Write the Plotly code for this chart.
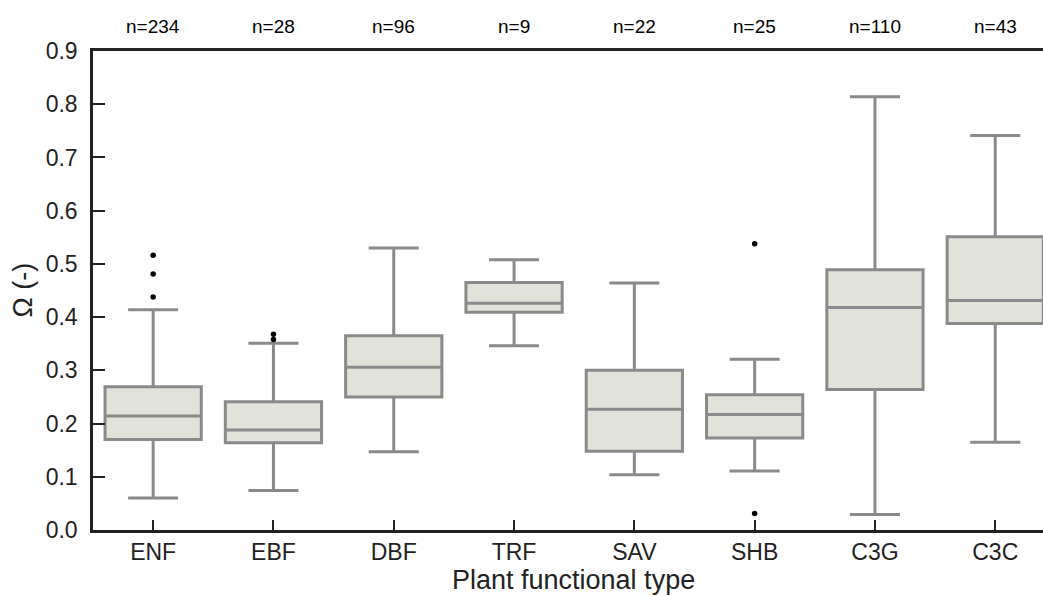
import plotly.graph_objects as go

categories = ["ENF", "EBF", "DBF", "TRF", "SAV", "SHB", "C3G", "C3C"]
n_labels = ["n=234", "n=28", "n=96", "n=9", "n=22", "n=25", "n=110", "n=43"]
lower_whisker = [0.060, 0.074, 0.147, 0.346, 0.104, 0.111, 0.029, 0.165]
q1_vals = [0.170, 0.164, 0.250, 0.409, 0.148, 0.173, 0.264, 0.388]
median_vals = [0.214, 0.188, 0.306, 0.426, 0.227, 0.217, 0.418, 0.431]
q3_vals = [0.269, 0.241, 0.365, 0.465, 0.300, 0.254, 0.489, 0.551]
upper_whisker = [0.414, 0.351, 0.530, 0.508, 0.464, 0.321, 0.814, 0.741]
outlier_cat = ["ENF", "ENF", "ENF", "EBF", "EBF", "SHB", "SHB"]
outlier_vals = [0.516, 0.481, 0.438, 0.368, 0.358, 0.538, 0.031]
y_ticks = [0.0, 0.1, 0.2, 0.3, 0.4, 0.5, 0.6, 0.7, 0.8, 0.9]

pos = list(range(len(categories)))
FONT = "Liberation Sans, Arial, sans-serif"

fig = go.Figure()
fig.add_trace(go.Box(
    x=pos, q1=q1_vals, median=median_vals, q3=q3_vals,
    lowerfence=lower_whisker, upperfence=upper_whisker,
    width=0.8, whiskerwidth=0.52,
    fillcolor="#e1e2d9", line=dict(color="#8a8a8a", width=3),
    boxpoints=False, showlegend=False, hoverinfo="skip",
))
fig.add_trace(go.Scatter(
    x=[categories.index(c) for c in outlier_cat], y=outlier_vals,
    mode="markers", marker=dict(color="black", size=5.5),
    showlegend=False, hoverinfo="skip",
))

for i, t in enumerate(n_labels):
    fig.add_annotation(x=i, y=1.052, xref="x", yref="paper", text=t,
                       showarrow=False, font=dict(size=19, color="black", family=FONT),
                       xanchor="center", yanchor="middle")

fig.add_annotation(x=(573 - 93) / 950, y=-(580 - 530) / 479, xref="paper", yref="paper",
                   text="Plant functional type", showarrow=False,
                   font=dict(size=27, color="#222", family=FONT),
                   xanchor="center", yanchor="middle")
fig.add_annotation(x=-(93 - 22) / 950, y=0.5, xref="paper", yref="paper", text="Ω (-)",
                   textangle=-90, showarrow=False,
                   font=dict(size=27, color="#222", family=FONT),
                   xanchor="center", yanchor="middle")

fig.update_xaxes(
    range=[-0.5, (1043 - 93) / 120.3 - 0.5],
    tickvals=pos, ticktext=categories,
    ticks="inside", ticklen=10, tickwidth=2, tickcolor="#222",
    showline=True, linecolor="#222", linewidth=2.5, mirror=True,
    showgrid=False, zeroline=False, ticklabelstandoff=0,
    tickfont=dict(size=23, color="#222", family=FONT),
)
fig.update_yaxes(
    range=[0, 0.9], tickvals=y_ticks, ticktext=[f"{v:.1f}" for v in y_ticks],
    ticks="inside", ticklen=12, tickwidth=2, tickcolor="#222",
    showline=True, linecolor="#222", linewidth=2.5,
    showgrid=False, zeroline=False, ticklabelstandoff=8,
    tickfont=dict(size=23, color="#222", family=FONT),
)
fig.update_layout(
    width=1043, height=596,
    margin=dict(l=93, r=0, t=51, b=66),
    plot_bgcolor="white", paper_bgcolor="white",
    font=dict(family=FONT),
)
fig.write_html("out.html")
